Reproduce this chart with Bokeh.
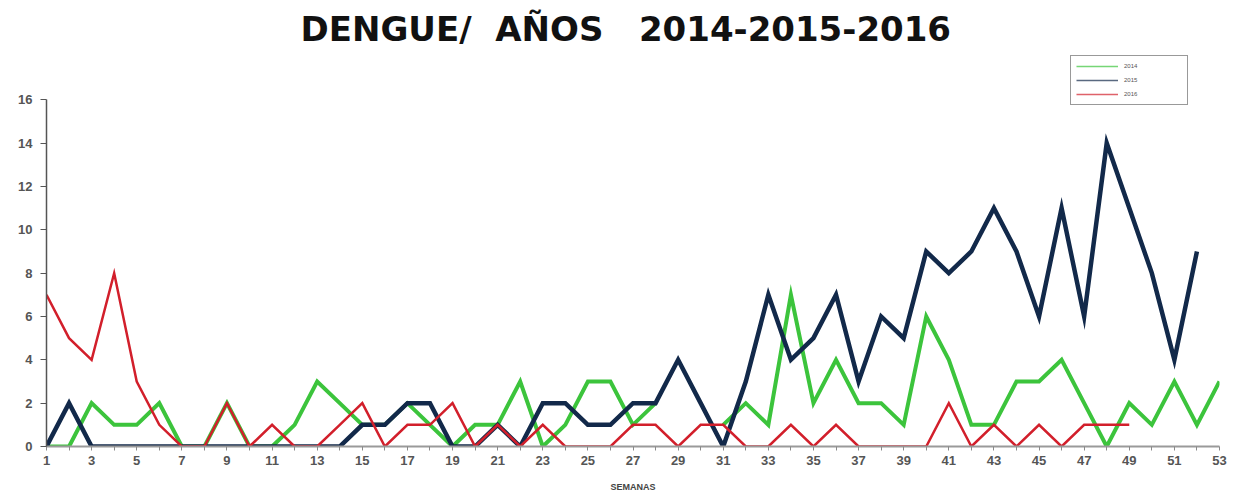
import numpy as np
from bokeh.plotting import figure
from bokeh.models import Range1d, Legend, LegendItem, FixedTicker
from bokeh.embed import file_html
from bokeh.resources import INLINE

weeks = list(range(1, 54))

# 2014 (green)
y2014 = [0, 0, 2, 1, 1, 2, 0, 0, 2, 0,
         0, 1, 3, 2, 1, 1, 2, 1, 0, 1,
         1, 3, 0, 1, 3, 3, 1, 2, np.nan, np.nan,
         1, 2, 1, 7, 2, 4, 2, 2, 1, 6,
         4, 1, 1, 3, 3, 4, 2, 0, 2, 1,
         3, 1, 3]
# 2015 (navy), weeks 1-52
y2015 = [0, 2, 0, 0, 0, 0, 0, 0, 0, 0,
         0, 0, 0, 0, 1, 1, 2, 2, 0, 0,
         1, 0, 2, 2, 1, 1, 2, 2, 4, 2,
         0, 3, 7, 4, 5, 7, 3, 6, 5, 9,
         8, 9, 11, 9, 6, 11, 6, 14, 11, 8,
         4, 9]
# 2016 (red), weeks 1-49
y2016 = [7, 5, 4, 8, 3, 1, 0, 0, 2, 0,
         1, 0, 0, 1, 2, 0, 1, 1, 2, 0,
         1, 0, 1, 0, 0, 0, 1, 1, 0, 1,
         1, 0, 0, 1, 0, 1, 0, 0, 0, 0,
         2, 0, 1, 0, 1, 0, 1, 1, 1]

series_names = ["2014", "2015", "2016"]
colors = ["#3cc43c", "#12294a", "#d21f2b"]
widths = [4, 4.5, 2.5]
y_ticks = list(range(0, 17, 2))

p = figure(width=1234, height=494, output_backend="svg", toolbar_location=None,
           x_range=Range1d(1, 53), y_range=Range1d(0, 18.18),
           min_border_left=46, min_border_right=15, min_border_top=52, min_border_bottom=42)
p.title.text = "DENGUE/\u00a0 AÑOS\u00a0\u00a0 2014-2015-2016"
p.title.text_font = "DejaVu Sans"
p.title.text_font_style = "bold"
p.title.text_font_size = "34px"
p.title.align = "left"
p.title.offset = 254
p.title.text_color = "#111111"
p.title.standoff = 8

p.grid.visible = False
p.outline_line_color = None
p.background_fill_color = "white"
p.border_fill_color = "white"

data = [y2014, y2015, y2016]
for name, ys, c, w in zip(series_names, data, colors, widths):
    p.line(weeks[:len(ys)], ys, line_color=c, line_width=w, line_join="miter")

# thin legend glyphs (drawn off-range so only the legend shows them)
legend_items = []
for name, c in zip(series_names, colors):
    lr = p.line([-10, -9], [0, 0], line_color=c, line_width=1.3, line_alpha=0.7)
    legend_items.append(LegendItem(label=name, renderers=[lr]))

legend = Legend(items=legend_items, location=(1024, 341), orientation="vertical",
                label_text_font_size="6px", label_text_color="#555555",
                glyph_width=42, glyph_height=10, label_height=10, label_width=58,
                spacing=4, padding=5, margin=0, label_standoff=6,
                border_line_color="#333333", border_line_width=1.2,
                background_fill_alpha=1.0)
p.add_layout(legend, "center")

# x axis
xa = p.xaxis[0]
xa.ticker = FixedTicker(ticks=weeks)
xa.major_label_overrides = {w: (str(w) if w % 2 == 1 else "") for w in weeks}
xa.axis_line_color = "#9a9a9a"
xa.axis_line_width = 2
xa.major_tick_line_color = "#8a8a8a"
xa.major_tick_in = 0
xa.major_tick_out = 4
xa.minor_tick_line_color = None
xa.major_label_text_font = "Liberation Sans"
xa.major_label_text_font_size = "13px"
xa.major_label_text_font_style = "bold"
xa.major_label_text_color = "#555555"
xa.major_label_standoff = 5
xa.axis_label = "SEMANAS"
xa.axis_label_text_font = "Liberation Sans"
xa.axis_label_text_font_size = "9px"
xa.axis_label_text_font_style = "bold"
xa.axis_label_text_color = "#444444"
xa.axis_label_standoff = 14

# y axis
ya = p.yaxis[0]
ya.ticker = FixedTicker(ticks=y_ticks)
ya.bounds = (0, 16)
ya.axis_line_color = "#555555"
ya.axis_line_width = 1.5
ya.major_tick_line_color = "#555555"
ya.major_tick_in = 0
ya.major_tick_out = 6
ya.minor_tick_line_color = None
ya.major_label_text_font = "Liberation Sans"
ya.major_label_text_font_size = "13px"
ya.major_label_text_font_style = "bold"
ya.major_label_text_color = "#555555"
ya.major_label_standoff = 8

open("out.html", "w").write(file_html(p, INLINE))
